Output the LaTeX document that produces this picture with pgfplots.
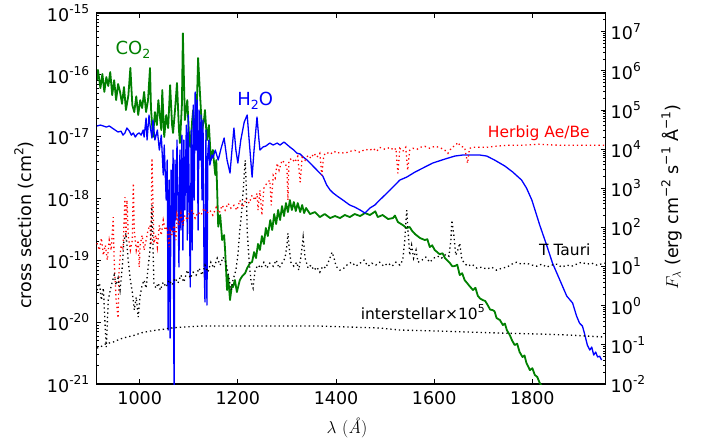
\documentclass[border=0pt]{standalone}
\usepackage{pgfplots}
\pgfplotsset{compat=1.18}
\usepackage{fontspec}
\setmainfont{DejaVu Sans}
\newfontfamily\lmr{Latin Modern Roman}
\definecolor{mplgreen}{rgb}{0,0.5,0}
\newcommand\sups[1]{\raisebox{0.45em}{\scalebox{0.7}{#1}}}
\newcommand\subs[1]{\raisebox{-0.22em}{\scalebox{0.7}{#1}}}
\pgfplotsset{
  mplframe/.style={
    width=509pt, height=371pt, scale only axis,
    xmin=912, xmax=1949, enlargelimits=false,
    tick align=inside,
    major tick length=5pt, minor tick length=2.5pt,
    every tick/.append style={black, line width=0.8pt},
    axis line style={line width=1.2pt},
    tick label style={font=\fontsize{17.5}{21}\selectfont},
    label style={font=\fontsize{17.5}{21}\selectfont},
  },
  dotline/.style={dash pattern=on 1.3pt off 3pt, line width=1.3pt},
}
\begin{document}
\begin{tikzpicture}
\useasboundingbox (-96.5pt,-61pt) rectangle (608.5pt,384pt);
% cross sections (left axis)
\begin{axis}[
  mplframe,
  at={(0pt,0pt)}, anchor=south west,
  ymode=log, ymin=1e-21, ymax=1e-15,
  ytick pos=left,
  xtick={1000,1200,1400,1600,1800},
  xticklabels={1000,1200,1400,1600,1800},
  ytick={1e-21,1e-20,1e-19,1e-18,1e-17,1e-16,1e-15},
  yticklabels={10\sups{-21},10\sups{-20},10\sups{-19},10\sups{-18},10\sups{-17},10\sups{-16},10\sups{-15}},
  minor ytick={2e-21,3e-21,4e-21,5e-21,6e-21,7e-21,8e-21,9e-21,
    2e-20,3e-20,4e-20,5e-20,6e-20,7e-20,8e-20,9e-20,
    2e-19,3e-19,4e-19,5e-19,6e-19,7e-19,8e-19,9e-19,
    2e-18,3e-18,4e-18,5e-18,6e-18,7e-18,8e-18,9e-18,
    2e-17,3e-17,4e-17,5e-17,6e-17,7e-17,8e-17,9e-17,
    2e-16,3e-16,4e-16,5e-16,6e-16,7e-16,8e-16,9e-16},
  xticklabel style={yshift=-4pt},
  yticklabel style={xshift=-3.7pt},
  xlabel={$\lambda$ {\lmr(\textit{Å})}},
  ylabel={cross section (cm\sups{2})},
  xlabel style={at={(axis description cs:0.492,0)}, anchor=center, yshift=-44pt},
  ylabel style={at={([xshift=-72.5pt]axis description cs:0,0.4286)}, anchor=center},
]
% CO2
\addplot[mplgreen, line width=1.8pt, line join=round] coordinates {
(913,8.2e-17)(915,1.2e-16)(920,6.1e-17)(924,1.03e-16)(928,5.3e-17)(932,9.2e-17)(936,6.6e-17)(940,1.11e-16)(944,4.7e-17)(948,8.2e-17)(952,3.9e-17)(956,7.1e-17)(960,5.3e-17)(964,3.4e-17)(968,6.35e-17)(972,2.7e-17)(977,4.7e-17)(981,1.29e-16)(985,3.25e-17)(989,2.5e-17)(993,4.5e-17)(997,2.24e-17)(1001,3.9e-17)(1005,2.9e-17)(1009,5.3e-17)(1013,2.5e-17)(1017,3.9e-17)(1021,1.29e-16)(1023,2.9e-17)(1027,9.9e-18)(1031,2.5e-17)(1035,1.54e-17)(1038,3.9e-17)(1044,1.28e-17)(1046,5.7e-17)(1050,9.9e-18)(1054,2.24e-17)(1058,1.38e-17)(1062,6.8e-17)(1066,1.54e-17)(1068,1.15e-17)(1072,2.7e-17)(1076,7.4e-17)(1080,1.28e-17)(1082,7.9e-18)(1086,3.25e-17)(1088,4.7e-16)(1092,1.86e-17)(1097,3.9e-17)(1101,8.8e-18)(1103,6.8e-18)(1107,1.86e-17)(1109,2.7e-17)(1113,1.06e-17)(1117,4.7e-17)(1119,1.87e-16)(1123,4.7e-17)(1127,1.28e-17)(1131,1.86e-17)(1133,2.7e-17)(1137,8.8e-18)(1141,1.54e-17)(1145,4.2e-18)(1149,6.1e-18)(1154,2.4e-18)(1156,4.2e-18)(1160,3.5e-19)(1164,5.4e-19)(1168,2.13e-19)(1172,2.56e-19)(1174,1.47e-19)(1178,3.31e-20)(1180,5.78e-20)(1184,2.28e-20)(1188,3.98e-20)(1190,3.7e-20)(1194,4.8e-20)(1198,3.07e-20)(1204,4.8e-20)(1209,5.57e-20)(1215,6.24e-20)(1219,7.52e-20)(1225,9.04e-20)(1229,9.4e-20)(1233,1.36e-19)(1237,1.09e-19)(1241,1.84e-19)(1245,1.47e-19)(1249,2.47e-19)(1253,1.84e-19)(1257,3.33e-19)(1261,2.47e-19)(1266,4.49e-19)(1270,3.09e-19)(1274,5.61e-19)(1278,3.86e-19)(1282,6.52e-19)(1286,4.49e-19)(1290,7.55e-19)(1294,5.21e-19)(1298,8.45e-19)(1302,6.04e-19)(1306,9.44e-19)(1310,6.52e-19)(1314,8.77e-19)(1318,6.27e-19)(1322,8.45e-19)(1327,6.04e-19)(1331,7.84e-19)(1335,5.82e-19)(1339,7.02e-19)(1347,5.61e-19)(1357,6.04e-19)(1367,5.01e-19)(1377,5.61e-19)(1388,4.83e-19)(1398,5.21e-19)(1408,4.83e-19)(1418,5.41e-19)(1428,5.01e-19)(1438,5.61e-19)(1449,5.21e-19)(1459,5.82e-19)(1469,5.41e-19)(1475,5.82e-19)(1480,6.2e-19)(1485,5.01e-19)(1495,5.41e-19)(1506,4.66e-19)(1516,4.83e-19)(1520,5.3e-19)(1526,4.17e-19)(1536,3.72e-19)(1544,3.33e-19)(1550,3.46e-19)(1555,3.0e-19)(1561,2.66e-19)(1571,2.3e-19)(1581,2.13e-19)(1586,2.2e-19)(1591,1.64e-19)(1596,1.75e-19)(1601,1.47e-19)(1611,1.26e-19)(1617,1.3e-19)(1622,1.09e-19)(1632,9.04e-20)(1637,8.0e-20)(1642,8.09e-20)(1647,8.5e-20)(1652,5.78e-20)(1657,6.2e-20)(1662,4.8e-20)(1667,4.3e-20)(1672,3.84e-20)(1679,3.31e-20)(1684,3.6e-20)(1689,2.65e-20)(1694,2.4e-20)(1699,2.28e-20)(1704,2.2e-20)(1709,1.89e-20)(1714,1.6e-20)(1719,1.57e-20)(1723,1.5e-20)(1727,1.17e-20)(1734,1.08e-20)(1740,8.99e-21)(1744,9.5e-21)(1748,7.46e-21)(1754,6.19e-21)(1759,5.0e-21)(1764,4.27e-21)(1769,4.5e-21)(1774,3.29e-21)(1780,2.73e-21)(1784,2.9e-21)(1788,2.18e-21)(1795,1.68e-21)(1800,1.8e-21)(1805,1.4e-21)(1810,1.3e-21)(1815,1.04e-21)(1819,9.3e-22)
};
% H2O
\addplot[blue, line width=1.3pt, line join=round] coordinates {
(913,1.49e-17)(920,1.54e-17)(926,1.49e-17)(932,1.43e-17)(938,1.49e-17)(944,1.38e-17)(950,1.28e-17)(956,1.19e-17)(962,1.23e-17)(966,1.06e-17)(970,1.15e-17)(974,1.38e-17)(979,1.23e-17)(983,1.06e-17)(987,1.15e-17)(991,9.86e-18)(995,1.10e-17)(999,1.15e-17)(1003,1.06e-17)(1007,1.28e-17)(1009,9.86e-18)(1013,2.0e-17)(1015,8.83e-18)(1019,2.24e-17)(1021,1.54e-17)(1025,9.5e-18)(1027,1.86e-17)(1031,8.83e-18)(1036,1.28e-17)(1040,6.08e-18)(1044,1.06e-17)(1048,2.4e-18)(1050,7.33e-18)(1054,9.44e-19)(1056,4.19e-18)(1058,7.46e-21)(1060,1.99e-18)(1062,5.53e-21)(1064,2.89e-18)(1066,3.09e-19)(1068,6.08e-18)(1070,5e-22)(1072,4.19e-18)(1074,4.49e-19)(1076,8.83e-18)(1078,9.44e-19)(1080,7.8e-20)(1082,6.08e-18)(1084,3.09e-19)(1086,1.06e-17)(1088,1.47e-19)(1090,8.83e-18)(1092,6.52e-19)(1095,1.54e-17)(1097,2.13e-19)(1099,2.24e-17)(1101,9.44e-19)(1103,3.7e-20)(1105,1.28e-17)(1107,1.47e-19)(1109,3.25e-17)(1111,9.44e-19)(1113,5.27e-17)(1115,6.08e-18)(1117,3.92e-17)(1119,3.09e-19)(1121,2.7e-17)(1123,4.19e-18)(1125,2.24e-17)(1127,9.44e-19)(1129,1.86e-17)(1131,1.01e-19)(1133,2.12e-20)(1135,1.28e-17)(1137,1.89e-20)(1139,6.08e-18)(1141,8.83e-18)(1143,3.48e-18)(1147,5.05e-18)(1149,4.52e-18)(1154,6.08e-18)(1160,4.19e-18)(1166,6.55e-18)(1172,9.5e-18)(1178,4.19e-18)(1184,2.58e-18)(1188,6.08e-18)(1192,1.38e-17)(1196,6.08e-18)(1200,3.75e-18)(1206,8.83e-18)(1213,1.73e-17)(1219,2.24e-17)(1223,8.83e-18)(1229,2.22e-18)(1233,6.08e-18)(1239,2.08e-17)(1243,8.83e-18)(1245,6.08e-18)(1251,6.8e-18)(1257,7.06e-18)(1265,7.89e-18)(1272,7.33e-18)(1280,7.89e-18)(1286,7.33e-18)(1294,8.2e-18)(1306,6.8e-18)(1314,6.08e-18)(1320,5.43e-18)(1327,5.24e-18)(1333,4.69e-18)(1341,4.19e-18)(1347,3.75e-18)(1357,3.11e-18)(1367,2.58e-18)(1373,2.31e-18)(1381,1.65e-18)(1388,1.37e-18)(1394,1.23e-18)(1402,1.1e-18)(1414,9.44e-19)(1428,7.84e-19)(1438,7.28e-19)(1449,6.52e-19)(1459,5.82e-19)(1469,7.02e-19)(1479,7.84e-19)(1489,9.44e-19)(1510,1.37e-18)(1530,1.99e-18)(1544,2.22e-18)(1561,2.68e-18)(1581,3.23e-18)(1597,3.75e-18)(1622,4.35e-18)(1642,4.86e-18)(1658,5.05e-18)(1672,5.05e-18)(1693,5.05e-18)(1707,4.86e-18)(1723,4.19e-18)(1744,3.35e-18)(1760,2.68e-18)(1778,1.99e-18)(1788,1.48e-18)(1799,9.44e-19)(1815,3.72e-19)(1829,1.77e-19)(1841,9.04e-20)(1856,4.8e-20)(1870,2.65e-20)(1882,2.04e-20)(1890,1.26e-20)(1896,9.68e-21)(1902,8.65e-21)(1906,6.67e-21)(1912,4.27e-21)(1917,3.54e-21)(1921,3.96e-21)(1925,2.94e-21)(1929,3.29e-21)(1933,2.73e-21)(1937,2.83e-21)(1941,2.44e-21)
};
\end{axis}
% stellar fluxes (right axis)
\begin{axis}[
  mplframe,
  at={(0pt,0pt)}, anchor=south west,
  hide x axis,
  ymode=log, ymin=1e-2, ymax=3e7,
  ytick pos=right, yticklabel pos=right,
  ytick={1e-2,1e-1,1,1e1,1e2,1e3,1e4,1e5,1e6,1e7},
  yticklabels={10\sups{-2},10\sups{-1},10\sups{0},10\sups{1},10\sups{2},10\sups{3},10\sups{4},10\sups{5},10\sups{6},10\sups{7}},
  minor ytick={2e-2,3e-2,4e-2,5e-2,6e-2,7e-2,8e-2,9e-2,
    0.2,0.3,0.4,0.5,0.6,0.7,0.8,0.9,2,3,4,5,6,7,8,9,
    20,30,40,50,60,70,80,90,200,300,400,500,600,700,800,900,
    2e3,3e3,4e3,5e3,6e3,7e3,8e3,9e3,2e4,3e4,4e4,5e4,6e4,7e4,8e4,9e4,
    2e5,3e5,4e5,5e5,6e5,7e5,8e5,9e5,2e6,3e6,4e6,5e6,6e6,7e6,8e6,9e6,2e7},
  yticklabel style={xshift=1.7pt},
  ylabel={$F_\lambda$ (erg cm\sups{−2} s\sups{−1} Å\sups{−1})},
  ylabel style={at={([xshift=66pt]axis description cs:1,0.504)}, anchor=center},
]
% Herbig Ae/Be
\addplot[red, dotline] coordinates {
(913,39.5)(918,26.2)(922,53.1)(926,19.5)(930,35.2)(934,14.6)(938,47.2)(942,26.2)(946,182)(948,14.6)(952,1.39)(956,0.483)(958,8.09)(962,35.2)(966,26.2)(970,589)(972,47.2)(974,494)(977,56.2)(981,26.2)(985,47.2)(987,1340)(989,84.9)(993,26.2)(997,47.2)(999,9.66)(1001,35.2)(1005,63.2)(1009,26.2)(1013,47.2)(1017,84.9)(1021,114)(1023,35.2)(1025,5820)(1027,494)(1029,39.5)(1033,63.2)(1036,31.3)(1040,114)(1044,63.2)(1048,153)(1052,84.9)(1056,101)(1060,31.3)(1062,84.9)(1066,63.2)(1070,114)(1074,47.2)(1076,205)(1080,114)(1084,230)(1088,114)(1092,205)(1097,153)(1101,230)(1107,275)(1113,172)(1119,244)(1125,205)(1131,309)(1137,230)(1143,275)(1149,205)(1156,327)(1162,230)(1168,368)(1174,275)(1180,414)(1186,309)(1192,368)(1198,275)(1204,494)(1210,327)(1217,556)(1223,414)(1229,664)(1235,494)(1239,746)(1241,275)(1245,889)(1249,205)(1253,1000)(1259,1340)(1265,1600)(1268,368)(1272,2150)(1276,1800)(1280,4350)(1284,2880)(1290,5180)(1296,4350)(1300,3440)(1302,494)(1304,5180)(1310,5820)(1316,4600)(1322,6550)(1327,1420)(1331,6180)(1337,5180)(1343,6950)(1349,5820)(1355,7820)(1361,6180)(1367,7820)(1371,2150)(1375,6950)(1381,8280)(1388,7360)(1396,8790)(1402,7820)(1408,8280)(1418,7820)(1428,8790)(1438,9310)(1449,8280)(1459,9880)(1469,9310)(1475,10500)(1483,8790)(1489,11100)(1500,9880)(1510,11100)(1518,9310)(1522,10500)(1526,2420)(1530,10500)(1536,8790)(1542,11100)(1546,2880)(1550,9310)(1557,10500)(1565,9880)(1571,11100)(1581,11800)(1591,10500)(1601,11800)(1611,11100)(1622,9310)(1628,7820)(1636,11100)(1644,12500)(1648,14900)(1654,11800)(1662,11100)(1668,4350)(1672,10500)(1679,11100)(1693,11100)(1707,11100)(1723,11800)(1748,12500)(1774,12500)(1815,13300)(1856,12500)(1896,12500)(1948,12500)
};
% T Tauri
\addplot[black, dotline] coordinates {
(913,2.5)(918,3.78)(922,1.39)(926,2.81)(930,0.239)(932,0.0879)(936,1.39)(940,2.5)(944,4.0)(948,6.04)(952,3.36)(956,5.06)(960,2.5)(964,8.09)(968,47.2)(972,71.1)(977,12.9)(981,4.5)(985,2.22)(989,0.773)(993,1.66)(997,0.512)(1001,1.86)(1005,3.36)(1009,4.5)(1013,2.81)(1017,9.1)(1021,26.2)(1023,84.9)(1025,368)(1027,35.2)(1029,3.78)(1033,2.81)(1038,3.78)(1042,2.5)(1048,4.0)(1054,2.99)(1060,4.5)(1066,3.36)(1072,5.06)(1078,3.78)(1084,6.04)(1090,4.0)(1097,8.09)(1103,5.06)(1109,7.19)(1115,6.04)(1121,9.1)(1127,6.04)(1133,10.9)(1139,7.19)(1145,12.9)(1151,9.1)(1158,16.4)(1164,10.9)(1170,17.4)(1176,12.2)(1182,5.06)(1186,2.5)(1190,4.5)(1196,8.09)(1200,19.5)(1204,84.9)(1208,275)(1213,2150)(1215,5180)(1217,1190)(1219,84.9)(1223,12.9)(1227,4.0)(1231,2.81)(1235,8.09)(1241,10.9)(1247,9.1)(1253,12.9)(1259,9.1)(1265,12.2)(1272,10.2)(1278,14.6)(1284,9.1)(1290,12.2)(1296,16.4)(1300,35.2)(1302,71.1)(1304,35.2)(1308,12.9)(1314,10.2)(1320,12.9)(1324,8.09)(1329,19.5)(1333,56.2)(1337,16.4)(1343,9.1)(1349,10.9)(1355,8.09)(1361,9.66)(1367,7.19)(1373,10.2)(1379,9.1)(1386,14.6)(1392,23.3)(1396,16.4)(1400,10.2)(1408,8.09)(1416,9.1)(1424,11.5)(1432,12.9)(1440,10.2)(1449,12.2)(1457,14.6)(1465,10.2)(1473,12.2)(1481,10.9)(1489,12.9)(1497,10.2)(1506,12.2)(1514,10.2)(1522,12.9)(1530,10.9)(1536,14.6)(1540,47.2)(1544,275)(1546,114)(1550,19.5)(1554,35.2)(1558,16.4)(1563,26.2)(1567,12.9)(1575,14.6)(1583,17.4)(1591,12.9)(1599,16.4)(1607,18.4)(1615,16.4)(1624,20.7)(1630,18.4)(1634,47.2)(1636,153)(1640,63.2)(1644,19.5)(1648,26.2)(1652,39.5)(1656,16.4)(1660,12.9)(1668,10.2)(1677,11.5)(1687,9.1)(1697,9.66)(1707,8.59)(1717,9.66)(1727,8.09)(1738,9.1)(1748,9.66)(1758,11.5)(1768,12.9)(1778,11.5)(1788,12.2)(1799,10.9)(1809,10.2)(1819,11.5)(1829,9.66)(1839,10.9)(1850,11.5)(1860,9.66)(1870,10.9)(1880,10.2)(1890,11.5)(1900,12.9)(1911,11.5)(1921,12.2)(1931,10.9)(1948,12.2)
};
% interstellar x 1e5
\addplot[black, dotline] coordinates {
(913,0.083)(920,0.088)(930,0.105)(946,0.118)(960,0.141)(974,0.158)(991,0.178)(1001,0.2)(1021,0.225)(1036,0.239)(1052,0.253)(1062,0.269)(1088,0.285)(1123,0.302)(1170,0.302)(1225,0.302)(1306,0.302)(1367,0.302)(1428,0.285)(1489,0.269)(1530,0.239)(1611,0.225)(1672,0.212)(1734,0.2)(1815,0.189)(1876,0.178)(1948,0.158)
};
\node[mplgreen, font=\fontsize{18}{21}\selectfont] at (axis description cs:0.0717,0.900) {CO\subs{2}};
\node[blue, font=\fontsize{18}{21}\selectfont] at (axis description cs:0.312,0.763) {H\subs{2}O};
\node[red, font=\fontsize{15.5}{18}\selectfont] at (axis description cs:0.869,0.677) {Herbig Ae/Be};
\node[black, font=\fontsize{15.5}{18}\selectfont] at (axis description cs:0.920,0.361) {T Tauri};
\node[black, font=\fontsize{15.5}{18}\selectfont] at (axis description cs:0.641,0.194) {interstellar×10\sups{5}};
\end{axis}
\end{tikzpicture}
\end{document}
